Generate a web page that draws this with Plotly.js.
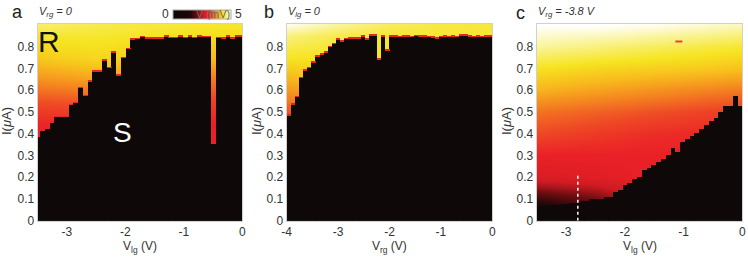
<!DOCTYPE html>
<html><head><meta charset="utf-8">
<script src="https://cdn.plot.ly/plotly-3.0.1.min.js"></script>
<style>html,body{margin:0;padding:0;background:#fff}#chart{width:748px;height:259px}</style>
</head><body><div id="chart"></div>
<script>
// ---------- Panel a : V_rg = 0, switching current vs V_lg ----------
const aStart = -3.5, aStep = 0.0814;
const aIc = [0.385, 0.41, 0.42, 0.448, 0.475, 0.475, 0.475, 0.531, 0.54, 0.609, 0.573, 0.639, 0.685, 0.685,
  0.736, 0.70, 0.772, 0.665, 0.747, 0.788, 0.831, 0.834, 0.843, 0.835, 0.835, 0.835, 0.835, 0.845, 0.838,
  0.838, 0.845, 0.838, 0.845, 0.838, 0.846, 0.842, 0.842, 0.353, 0.838, 0.835, 0.845, 0.835, 0.845, 0.845];
const aGridV = [-3.5, -2.5, -1.5, -0.5, 0];
const aGridI = [0, 0.3, 0.35, 0.45, 0.55, 0.65, 0.75, 0.85, 0.9];
const aGridZ = [
  [0, 0, 0, 0, 0],
  [2.9, 2.9, 2.9, 2.9, 2.9],
  [2.95, 2.95, 2.95, 2.95, 2.95],
  [3.05, 3.05, 3.05, 3.0, 3.0],
  [3.35, 3.4, 3.3, 3.25, 3.25],
  [3.75, 3.85, 3.7, 3.6, 3.6],
  [4.1, 4.2, 4.1, 4.0, 4.0],
  [4.35, 4.35, 4.3, 4.25, 4.25],
  [4.55, 4.45, 4.4, 4.35, 4.35]
];

// ---------- Panel b : V_lg = 0, switching current vs V_rg ----------
const bStart = -4.0, bStep = 0.08;
const bIc = [0.483, 0.532, 0.567, 0.655, 0.69, 0.70, 0.726, 0.754, 0.762, 0.773, 0.797, 0.812, 0.831, 0.823,
  0.834, 0.835, 0.835, 0.835, 0.846, 0.831, 0.85, 0.85, 0.739, 0.846, 0.782, 0.846,
  0.846, 0.843, 0.846, 0.846, 0.843, 0.848, 0.846, 0.846, 0.843, 0.84, 0.836, 0.843, 0.846, 0.843,
  0.846, 0.843, 0.85, 0.85, 0.846, 0.843, 0.846, 0.843, 0.846, 0.846];
const bGridV = [-4, -3, -2, -1, 0];
const bGridI = [0, 0.4, 0.45, 0.55, 0.65, 0.75, 0.85, 0.9];
const bGridZ = [
  [0, 0, 0, 0, 0],
  [2.9, 2.9, 2.9, 2.9, 2.9],
  [3.1, 3.2, 3.2, 3.2, 3.2],
  [3.6, 3.7, 3.7, 3.7, 3.7],
  [3.95, 4.1, 4.1, 4.1, 4.1],
  [4.3, 4.3, 4.3, 4.3, 4.3],
  [4.6, 4.45, 4.35, 4.35, 4.35],
  [4.95, 4.7, 4.5, 4.42, 4.4]
];

// ---------- Panel c : V_rg = -3.8 V, switching current vs V_lg ----------
const cStart = -3.5, cStep = 0.0814;
const cIc = [0.068, 0.069, 0.07, 0.072, 0.074, 0.076, 0.078, 0.081, 0.083,
  0.09, 0.09, 0.098, 0.098, 0.10,
  0.11, 0.11, 0.133, 0.14, 0.165, 0.175, 0.19,
  0.202, 0.233, 0.24, 0.255, 0.27, 0.285, 0.302, 0.333, 0.317, 0.363, 0.375, 0.39, 0.405, 0.42,
  0.44, 0.46, 0.471, 0.498, 0.527, 0.527, 0.575, 0.527];
const cGridV = [-3.5, -2.5, -1.5, -0.5, 0];
const cGridI = [0, 0.05, 0.1, 0.15, 0.2, 0.3, 0.4, 0.5, 0.6, 0.7, 0.8, 0.9];
const cGridZ = [
  [0, 0, 0, 0, 0],
  [1.2, 1.6, 2.6, 3.0, 3.0],
  [1.7, 2.1, 2.8, 3.0, 3.0],
  [2.3, 2.5, 2.9, 3.0, 3.0],
  [2.75, 2.85, 3.0, 3.0, 3.0],
  [3.0, 3.0, 3.0, 3.0, 3.0],
  [3.3, 3.2, 3.1, 3.05, 3.05],
  [3.55, 3.45, 3.35, 3.25, 3.2],
  [3.95, 3.85, 3.75, 3.65, 3.6],
  [4.3, 4.2, 4.15, 4.1, 4.05],
  [4.7, 4.6, 4.5, 4.4, 4.35],
  [5.0, 5.0, 4.95, 4.85, 4.8]
];
const cMarkV = [-1.08], cMarkI = [0.823];          // isolated resistive pixel
const cCutV = [-2.8, -2.8], cCutI = [0, 0.22];     // dotted line cut

const xTicksA = [-3, -2, -1, 0], xTicksB = [-4, -3, -2, -1, 0];
const yTicks = [0, 0.1, 0.2, 0.3, 0.4, 0.5, 0.6, 0.7, 0.8];

// ---------- styling ----------
const FONT = 'Liberation Sans, Arial, sans-serif';
const BLACK = '#0e0808', CAPRED = '#e3262b', CAP = 0.007;
const W = 748, H = 259;
const colorscale = [[0, '#0e0808'], [0.3, '#1e0707'], [0.42, '#6e0d10'], [0.52, '#cf1b22'], [0.6, '#ea2027'],
  [0.66, '#ee4725'], [0.73, '#f48320'], [0.8, '#f8bb1c'], [0.86, '#f6e420'], [0.93, '#f9f289'], [1, '#ffffff']];

function cols(start, step, arr, centred) {
  return arr.map((_, k) => start + step * (k + (centred ? 0.5 : 0)));
}
const aV = cols(aStart, aStep, aIc, false);
const bV = cols(bStart, bStep, bIc, true);
const cV = cols(cStart, cStep, cIc, true);

function panel(xa, ya, gx, gy, gz, V, Ic, step, caps) {
  const t = [
    {type: 'heatmap', x: gx, y: gy, z: gz, zsmooth: 'best', coloraxis: 'coloraxis', xaxis: xa, yaxis: ya, hoverinfo: 'skip'},
    {type: 'bar', x: V, y: Ic, width: step * 1.03, marker: {color: BLACK, line: {width: 0}}, xaxis: xa, yaxis: ya, hoverinfo: 'skip'}
  ];
  if (caps) t.push({type: 'bar', x: V, y: Ic.map(() => CAP), base: Ic, width: step * 1.03,
    marker: {color: CAPRED, line: {width: 0}}, xaxis: xa, yaxis: ya, hoverinfo: 'skip'});
  return t;
}

const traces = [
  ...panel('x', 'y', aGridV, aGridI, aGridZ, aV, aIc, aStep, true),
  ...panel('x2', 'y2', bGridV, bGridI, bGridZ, bV, bIc, bStep, true),
  ...panel('x3', 'y3', cGridV, cGridI, cGridZ, cV, cIc, cStep, false),
  {type: 'scatter', mode: 'lines', x: cCutV, y: cCutI, xaxis: 'x3', yaxis: 'y3',
    line: {color: '#ffffff', width: 1.5, dash: 'dot'}, hoverinfo: 'skip'},
  {type: 'scatter', mode: 'markers', x: cMarkV, y: cMarkI, xaxis: 'x3', yaxis: 'y3',
    marker: {symbol: 'line-ew', size: 5, line: {color: '#e8452a', width: 2}}, hoverinfo: 'skip'}
];

const yDom = [38.3 / H, 235 / H];
function xax(d, range, ticks) {
  return {domain: d, range: range, tickvals: ticks, ticktext: ticks.map(String),
    showgrid: false, zeroline: false, showline: true, mirror: true, linecolor: '#d0d0d0', linewidth: 1,
    ticks: '', tickfont: {family: FONT, size: 12, color: '#333'}, fixedrange: true};
}
function yax(anchor) {
  return {domain: yDom, range: [0, 0.904], anchor: anchor, tickvals: yTicks, ticktext: yTicks.map(String),
    showgrid: false, zeroline: false, showline: true, mirror: true, linecolor: '#d0d0d0', linewidth: 1,
    ticks: '', tickfont: {family: FONT, size: 12, color: '#333'}, fixedrange: true};
}

function ann(text, px, py, opt) {
  return Object.assign({text: text, x: px / W, y: 1 - py / H, xref: 'paper', yref: 'paper', showarrow: false,
    xanchor: 'center', yanchor: 'middle', font: {family: FONT, size: 12, color: '#333'}}, opt || {});
}

const annotations = [
  ann('a', 17.5, 12, {font: {family: FONT, size: 18, color: '#222'}}),
  ann('b', 269, 12, {font: {family: FONT, size: 18, color: '#222'}}),
  ann('c', 520, 13, {font: {family: FONT, size: 18, color: '#222'}}),
  ann('<i>V<sub>rg</sub> = 0</i>', 37, 12, {xanchor: 'left', font: {family: FONT, size: 11, color: '#333'}}),
  ann('<i>V<sub>lg</sub> = 0</i>', 286, 12, {xanchor: 'left', font: {family: FONT, size: 11, color: '#333'}}),
  ann('<i>V<sub>rg</sub> = -3.8 V</i>', 536, 12, {xanchor: 'left', font: {family: FONT, size: 11, color: '#333'}}),
  ann('R', 48.5, 41, {font: {family: FONT, size: 30, color: '#111'}}),
  ann('S', 122.5, 132, {font: {family: FONT, size: 28, color: '#ffffff'}}),
  ann('0', 165, 13.5, {font: {family: FONT, size: 12, color: '#333'}}),
  ann('5', 238.5, 13.5, {font: {family: FONT, size: 12, color: '#333'}}),
  ann('V (mV)', 213, 14, {font: {family: FONT, size: 11, color: '#6a6a6a'}}),
  ann('V<sub>lg</sub> (V)', 140, 247, {}),
  ann('V<sub>rg</sub> (V)', 389.5, 247, {}),
  ann('V<sub>lg</sub> (V)', 639.5, 247, {}),
  ann('I(<i>μ</i>A)', 7, 121, {textangle: -90, font: {family: FONT, size: 13, color: '#333'}}),
  ann('I(<i>μ</i>A)', 257, 121, {textangle: -90, font: {family: FONT, size: 13, color: '#333'}}),
  ann('I(<i>μ</i>A)', 507, 121, {textangle: -90, font: {family: FONT, size: 13, color: '#333'}})
];

const layout = {
  width: W, height: H, margin: {l: 0, r: 0, t: 0, b: 0},
  paper_bgcolor: '#ffffff', plot_bgcolor: '#ffffff', showlegend: false,
  barmode: 'overlay', bargap: 0,
  xaxis: xax([37.7 / W, 242.3 / W], [-3.5, 0], xTicksA),
  xaxis2: Object.assign(xax([286.7 / W, 492.3 / W], [-4, 0], xTicksB), {anchor: 'y2'}),
  xaxis3: Object.assign(xax([536.7 / W, 742.3 / W], [-3.5, 0], xTicksA), {anchor: 'y3'}),
  yaxis: yax('x'), yaxis2: yax('x2'), yaxis3: yax('x3'),
  coloraxis: {cmin: 0, cmax: 5, colorscale: colorscale,
    colorbar: {orientation: 'h', x: 202 / W, xanchor: 'center', y: 1 - 14.5 / H, yanchor: 'middle',
      len: 58, lenmode: 'pixels', thickness: 9, thicknessmode: 'pixels', showticklabels: false, ticks: '',
      outlinewidth: 1, outlinecolor: '#aaaaaa', xpad: 0, ypad: 0}},
  annotations: annotations,
  font: {family: FONT}
};

Plotly.newPlot('chart', traces, layout, {displayModeBar: false, staticPlot: true});
</script></body></html>
